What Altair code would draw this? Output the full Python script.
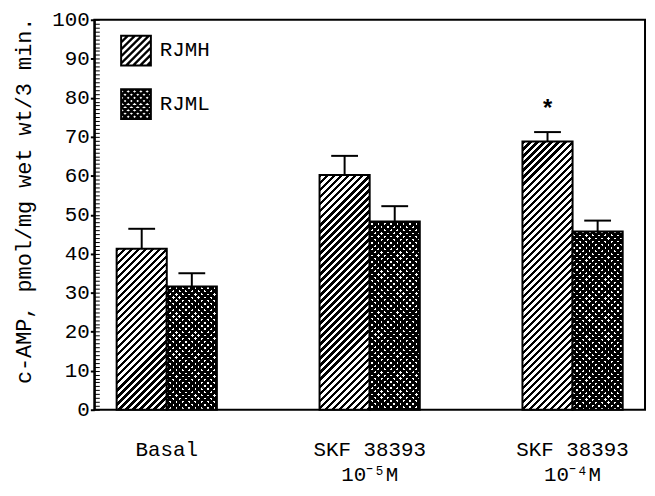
import math
import altair as alt
import pandas as pd

# ---- data ----
categories = ["Basal", "SKF  38393|10⁻⁵M", "SKF  38393|10⁻⁴M"]
series = ["RJMH", "RJML"]
rjmh_mean = [41.3, 60.2, 68.8]
rjmh_upper = [46.4, 65.1, 71.2]
rjml_mean = [31.6, 48.3, 45.7]
rjml_upper = [35.0, 52.2, 48.5]
rjmh_mark = ["", "", "*"]
rjml_mark = ["", "", ""]
y_minor = list(range(0, 101, 1))
y_title = "c-AMP, pmol/mg wet wt/3 min."

# ---- layout / style ----
W, H = 555, 393
PI, PO = 0.506, 0.11
FONT = "Liberation Mono"

rows = []
for i, c in enumerate(categories):
    rows.append(dict(idx=i, cat=c, series="RJMH", mean=rjmh_mean[i], upper=rjmh_upper[i], mark=rjmh_mark[i]))
    rows.append(dict(idx=i, cat=c, series="RJML", mean=rjml_mean[i], upper=rjml_upper[i], mark=rjml_mark[i]))
df = pd.DataFrame(rows)

step = W / (len(categories) - PI + 2 * PO)
bar_w = step * (1 - PI) / 2
ppu = H / 100.0

HATCH = (5.0, 2.4)
DOTS = (4.5, 2.7)


def stripe_gradient(w, h, period, black, direction, light):
    """45-degree stripes drawn with a sharp-stop linear gradient (bbox units)."""
    L = w + h
    P = period * math.sqrt(2)
    B = black * math.sqrt(2)
    stops = []
    c = 0.0
    while c < L - 1e-9:
        b_end = min(c + B, L)
        stops.append({"offset": round(c / L, 5), "color": "black"})
        stops.append({"offset": round(b_end / L, 5), "color": "black"})
        if b_end < L:
            w_end = min(c + P, L)
            stops.append({"offset": round(b_end / L, 5), "color": light})
            stops.append({"offset": round(w_end / L, 5), "color": light})
        c += P
    k = L / (w * w + h * h)
    a, b = w * k, h * k
    if direction == "up":
        return {"gradient": "linear", "x1": 0, "y1": 0, "x2": round(a, 5), "y2": round(b, 5), "stops": stops}
    return {"gradient": "linear", "x1": 0, "y1": 1, "x2": round(a, 5), "y2": round(1 - b, 5), "stops": stops}


def clip(poly, inside, inter):
    out = []
    n = len(poly)
    for i in range(n):
        cur, prev = poly[i], poly[i - 1]
        if inside(cur):
            if not inside(prev):
                out.append(inter(prev, cur))
            out.append(cur)
        elif inside(prev):
            out.append(inter(prev, cur))
    return out


def clip_square(poly, s):
    def ix(p, q, xv):
        t = (xv - p[0]) / (q[0] - p[0])
        return (xv, p[1] + t * (q[1] - p[1]))

    def iy(p, q, yv):
        t = (yv - p[1]) / (q[1] - p[1])
        return (p[0] + t * (q[0] - p[0]), yv)

    poly = clip(poly, lambda p: p[0] >= -s, lambda p, q: ix(p, q, -s))
    if poly:
        poly = clip(poly, lambda p: p[0] <= s, lambda p, q: ix(p, q, s))
    if poly:
        poly = clip(poly, lambda p: p[1] >= -s, lambda p, q: iy(p, q, -s))
    if poly:
        poly = clip(poly, lambda p: p[1] <= s, lambda p, q: iy(p, q, s))
    return poly


def area(poly):
    return sum(poly[i - 1][0] * poly[i][1] - poly[i][0] * poly[i - 1][1] for i in range(len(poly))) / 2


def ring(poly):
    return "M" + "L".join(f"{x:.3f},{y:.3f}" for x, y in poly) + "Z"


def legend_path(period_px, black_px, both):
    r = 16.0
    s_in = 1 - 2 / r
    parts = ["M-1,-1L1,-1L1,1L-1,1Z",
             f"M{-s_in},{-s_in}L{-s_in},{s_in}L{s_in},{s_in}L{s_in},{-s_in}Z"]
    P = period_px / r * math.sqrt(2)
    B = black_px / r * math.sqrt(2)
    M = 4
    polys = []
    c = -2.0
    while c < 2.0:
        a, b = c, c + B
        band = [(a / 2 + M, a / 2 - M), (a / 2 - M, a / 2 + M), (b / 2 - M, b / 2 + M), (b / 2 + M, b / 2 - M)]
        polys.append(band)
        if both:
            polys.append([(x, -y) for x, y in band])
        c += P
    for pg in polys:
        cp = clip_square(pg, s_in)
        if len(cp) >= 3 and abs(area(cp)) > 1e-6:
            if area(cp) < 0:
                cp = cp[::-1]
            parts.append(ring(cp))
    return "".join(parts)


hatch_path = legend_path(HATCH[0], HATCH[1], False)
dot_path = legend_path(DOTS[0], DOTS[1], True)


def X():
    return alt.X("cat:N", sort=categories,
                 scale=alt.Scale(domain=categories, paddingInner=PI, paddingOuter=PO),
                 axis=alt.Axis(labelExpr="split(datum.label, '|')", labelFont=FONT, labelFontSize=21,
                               labelColor="black", labelAngle=0, labelPadding=29, labelLineHeight=25,
                               ticks=False, domain=False, title=None, labelBaseline="top"),
                 title=None)


def XO():
    return alt.XOffset("series:N", sort=series,
                       scale=alt.Scale(domain=series, paddingInner=0, paddingOuter=0))


YSCALE = alt.Scale(domain=[0, 100], nice=False, zero=True)


def Y(field):
    return alt.Y(f"{field}:Q", scale=YSCALE,
                 title=y_title,
                 axis=alt.Axis(orient="left", values=y_minor,
                               labelExpr="datum.value % 10 === 0 ? datum.label : ''",
                               tickOpacity={"condition": {"test": "datum.value % 10 === 0", "value": 1}, "value": 0},
                               tickSize=4, tickWidth=2, tickColor="black",
                               grid=True, gridDash=[5, 3000], gridColor="black", gridWidth=1, gridOpacity=1,
                               domainColor="black", domainWidth=2,
                               labelFont=FONT, labelFontSize=21, labelColor="black", labelPadding=1,
                               labelOverlap=False, labelFlush=False, labelBound=False,
                               titleFont=FONT, titleFontSize=22, titleFontWeight="normal", titleColor="black",
                               titleX=-64, titleY=182, titleAngle=270, titleBaseline="alphabetic",
                               titleAlign="center"))


base = alt.Chart(df)
layers = []
for _, r in df.iterrows():
    h = r["mean"] * ppu
    flt = f"datum.idx === {int(r['idx'])} && datum.series === '{r['series']}'"
    if r["series"] == "RJMH":
        g = stripe_gradient(bar_w, h, HATCH[0], HATCH[1], "up", "white")
        layers.append(base.transform_filter(flt).mark_bar(fill=g, stroke="black", strokeWidth=2)
                      .encode(x=X(), xOffset=XO(), y=Y("mean")))
    else:
        g1 = stripe_gradient(bar_w, h, DOTS[0], DOTS[1], "up", "white")
        g2 = stripe_gradient(bar_w, h, DOTS[0], DOTS[1], "down", "rgba(0,0,0,0)")
        layers.append(base.transform_filter(flt).mark_bar(fill=g1, strokeWidth=0)
                      .encode(x=X(), xOffset=XO(), y=Y("mean")))
        layers.append(base.transform_filter(flt).mark_bar(fill=g2, stroke="black", strokeWidth=2)
                      .encode(x=X(), xOffset=XO(), y=Y("mean")))

err = base.mark_rule(color="black", strokeWidth=2).encode(
    x=X(), xOffset=XO(), y=Y("mean"), y2="upper:Q")
cap = base.mark_tick(color="black", thickness=2, size=27, opacity=1).encode(
    x=X(), xOffset=XO(), y=Y("upper"))
star = base.mark_text(font=FONT, fontSize=24, fontWeight="bold", color="black",
                      baseline="alphabetic", dy=-15).encode(
    x=X(), xOffset=XO(), y=Y("upper"), text="mark:N")

leg = base.mark_point(filled=True, color="black", opacity=0).encode(
    x=X(), xOffset=XO(), y=Y("mean"),
    shape=alt.Shape("series:N", sort=series,
                    scale=alt.Scale(domain=series, range=[hatch_path, dot_path]),
                    legend=alt.Legend(title=None, orient="none", legendX=26, legendY=15, padding=0,
                                      rowPadding=22, labelOffset=8, symbolSize=1024, symbolOpacity=1,
                                      symbolFillColor="black", symbolStrokeWidth=0,
                                      labelFont=FONT, labelFontSize=21, labelColor="black",
                                      labelLimit=200)))

chart = alt.layer(*layers, err, cap, star, leg).properties(
    width=W, height=H,
    autosize=alt.AutoSizeParams(type="none"),
    padding={"left": 87, "top": 10, "right": 2, "bottom": 75},
    background="white",
).configure_view(stroke="black", strokeWidth=2)

chart.save("out.html", embed_options={"renderer": "svg", "actions": False})
